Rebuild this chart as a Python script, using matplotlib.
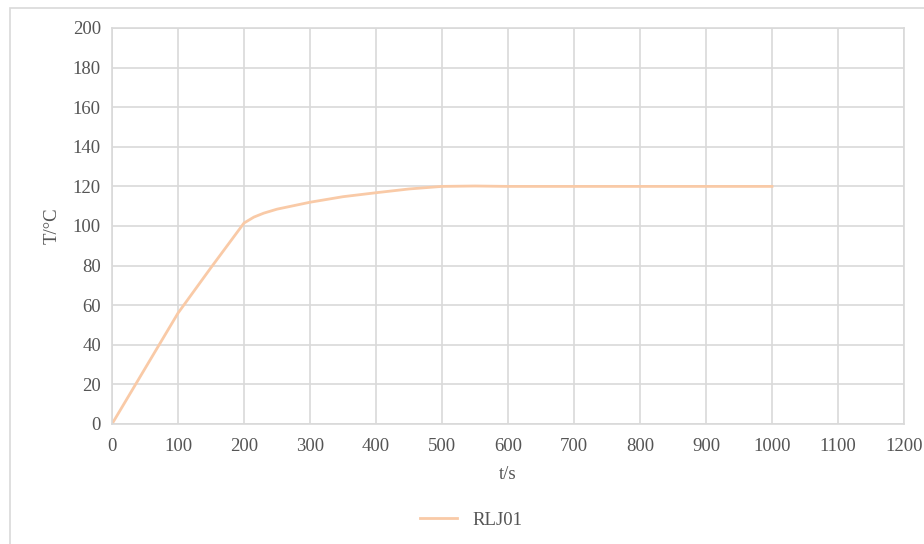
import matplotlib.pyplot as plt
import matplotlib.patches as patches

# Heating curve (s, °C)
time_s = [0, 50, 100, 150, 200, 215, 230, 250, 300, 350, 400, 450, 500, 550, 600,
          650, 700, 750, 800, 850, 900, 950, 1000]
temp_c = [0, 28, 56, 79, 101.5, 104.5, 106.5, 108.5, 112, 114.8, 116.8, 118.7, 120, 120.2, 120,
          120, 120, 120, 120, 120, 120, 120, 120]
series_name = "RLJ01"

x_ticks = list(range(0, 1201, 100))
y_ticks = list(range(0, 201, 20))


def main():
    plt.rcParams["font.family"] = ["Liberation Serif", "DejaVu Serif"]
    text_color = "#555555"
    grid_color = "#D9D9D9"
    fs = 13.5

    fig = plt.figure(figsize=(9.24, 5.44), dpi=100)
    W, H = 924, 544

    # chart area border
    border = patches.Rectangle(
        (10 / W, -0.1), 1.2, 1 - 8 / H + 0.1,
        transform=fig.transFigure, fill=False,
        edgecolor=grid_color, linewidth=1.2,
    )
    fig.patches.append(border)

    ax = fig.add_axes([112 / W, 1 - 424 / H, (904 - 112) / W, (424 - 28) / H])
    ax.plot(time_s, temp_c, color="#F9CAA7", linewidth=2, label=series_name,
            solid_joinstyle="round")

    ax.set_xlim(0, 1200)
    ax.set_ylim(0, 200)
    ax.set_xticks(x_ticks)
    ax.set_yticks(y_ticks)
    ax.grid(True, color=grid_color, linewidth=1.2)
    ax.set_axisbelow(True)
    for sp in ax.spines.values():
        sp.set_color(grid_color)
        sp.set_linewidth(1.2)
    ax.tick_params(axis="y", length=0, colors=text_color, labelsize=fs, pad=8)
    ax.tick_params(axis="x", length=0, colors=text_color, labelsize=fs, pad=10)

    ax.set_xlabel("t/s", color=text_color, fontsize=fs, labelpad=8)
    ax.set_ylabel("T/°C", color=text_color, fontsize=fs, labelpad=9)

    fig.legend(
        loc="center", bbox_to_anchor=(471 / W, 1 - 520 / H),
        frameon=False, fontsize=fs, handlelength=2,
        labelcolor=text_color,
    )

    plt.savefig("out.png", dpi=100, facecolor="white")


if __name__ == "__main__":
    main()
